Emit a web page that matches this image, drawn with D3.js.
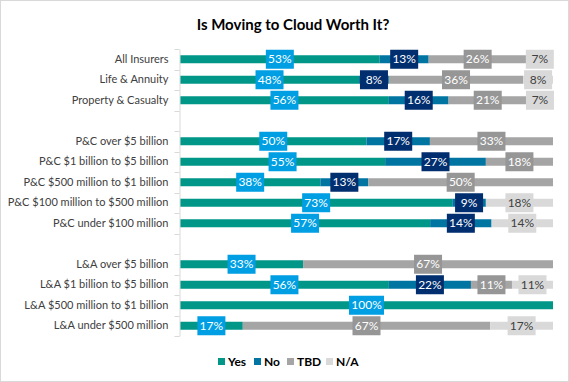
<!DOCTYPE html>
<html><head><meta charset="utf-8">
<script src="https://cdn.jsdelivr.net/npm/d3@7/dist/d3.min.js"></script>
<style>
html,body{margin:0;padding:0;background:#fff;}
svg{display:block;font-family:Lato,"Open Sans",sans-serif;}
</style></head>
<body>
<svg id="c" width="569" height="382"></svg>
<script>
const categories = ["All Insurers","Life & Annuity","Property & Casualty","",
  "P&C over $5 billion","P&C $1 billion to $5 billion","P&C $500 million to $1 billion",
  "P&C $100 million to $500 million","P&C under $100 million"," ",
  "L&A over $5 billion","L&A $1 billion to $5 billion","L&A $500 million to $1 billion","L&A under $500 million"];
const seriesNames = ["Yes","No","TBD","N/A"];
const yes = [53,48,56,null,50,55,38,73,57,null,33,56,100,17];
const no  = [13,8,16,null,17,27,13,9,14,null,0,22,0,0];
const tbd = [26,36,21,null,33,18,50,0,0,null,67,11,0,67];
const na  = [7,8,7,null,0,0,0,18,14,null,0,11,0,17];

const colors = ["#009688","#0075A2","#A5A5A5","#D9D9D9"];
const boxColors = ["#009FE3","#002E6E","#969696","#D9D9D9"];
const textColors = ["#fff","#fff","#fff","#404040"];

const svg = d3.select("#c");
svg.append("rect").attr("x",0.5).attr("y",0.5).attr("width",568).attr("height",381)
  .attr("fill","#fff").attr("stroke","#D9D9D9");

svg.append("text").attr("x",293).attr("y",29.5).attr("text-anchor","middle")
  .attr("font-size",15).attr("font-weight","bold").attr("fill","#000")
  .text("Is Moving to Cloud Worth It?");

const x = d3.scaleLinear().domain([0,1]).range([180,553]);
const y = d3.scaleBand().domain(categories.map((c,i)=>i)).range([49,336]);

const series = [yes,no,tbd,na];
const rows = categories.map((c,i)=>{
  const vals = series.map(s=>s[i]||0);
  const tot = d3.sum(vals);
  let acc = 0;
  const segs = vals.map((v,k)=>{const s={k,v,x0:tot?acc/tot:0,x1:tot?(acc+v)/tot:0}; acc+=v; return s;});
  return {i,segs,tot};
});

const barH = 8;
const g = svg.append("g");
rows.forEach(r=>{
  if(!r.tot) return;
  const cy = y(r.i)+y.bandwidth()/2;
  r.segs.forEach(s=>{
    if(!s.v) return;
    g.append("rect").attr("x",x(s.x0)).attr("y",cy-barH/2)
      .attr("width",x(s.x1)-x(s.x0)).attr("height",barH).attr("fill",colors[s.k]);
  });
});
rows.forEach(r=>{
  if(!r.tot) return;
  const cy = y(r.i)+y.bandwidth()/2;
  r.segs.forEach(s=>{
    if(!s.v) return;
    const cx = (x(s.x0)+x(s.x1))/2;
    const t = s.v+"%";
    const w = t.length>3?35:28;
    g.append("rect").attr("x",cx-w/2).attr("y",cy-9.5).attr("width",w).attr("height",19)
      .attr("fill",boxColors[s.k]);
    g.append("text").attr("x",cx).attr("y",cy+4).attr("text-anchor","middle")
      .attr("font-size",12).attr("fill",textColors[s.k]).text(t);
  });
});

// axis
const axis = d3.axisLeft(y).tickSize(0).tickPadding(11).tickFormat(i=>categories[i].trim());
const ag = svg.append("g").attr("transform","translate(179.5,0)").call(axis);
ag.select(".domain").attr("stroke","#D9D9D9");
ag.selectAll(".tick text").attr("font-size",11).attr("fill","#404040").attr("font-family","Lato,sans-serif");
// band boundary ticks
const bounds = y.domain().map(i=>y(i)).concat([y.range()[1]]);
ag.selectAll(".bt").data(bounds).enter().append("line")
  .attr("x1",-5).attr("x2",0).attr("y1",d=>Math.round(d)+0.5).attr("y2",d=>Math.round(d)+0.5)
  .attr("stroke","#D9D9D9");

// legend
const leg = svg.append("g");
const lx = [218,254,287,326];
seriesNames.forEach((n,k)=>{
  leg.append("rect").attr("x",lx[k]).attr("y",358).attr("width",7).attr("height",7).attr("fill",colors[k]);
  leg.append("text").attr("x",lx[k]+10).attr("y",365.5).attr("font-size",12).attr("font-weight","bold")
    .attr("fill","#000").text(n);
});
</script>
</body></html>
